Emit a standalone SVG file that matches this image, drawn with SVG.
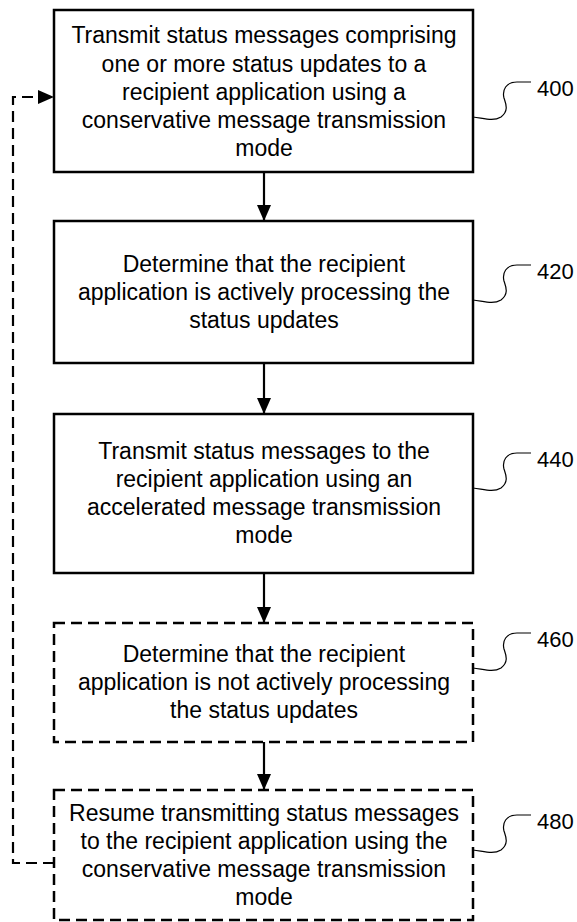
<svg xmlns="http://www.w3.org/2000/svg" width="577" height="922" viewBox="0 0 577 922">
<style>
.box{fill:#fff;stroke:#000;stroke-width:2.5}
.dash{stroke-dasharray:11 6}
.t{font-family:"Liberation Sans",Arial,sans-serif;font-size:23px;fill:#000;text-anchor:middle}
.lbl{font-family:"Liberation Sans",Arial,sans-serif;font-size:22px;fill:#000}
.lead{fill:none;stroke:#000;stroke-width:1.2}
.conn{fill:none;stroke:#000;stroke-width:2.2}
</style>
<defs>
<marker id="ah" markerWidth="16" markerHeight="14" refX="16" refY="7" orient="auto" markerUnits="userSpaceOnUse">
<path d="M0,0 L16,7 L0,14 Z" fill="#000"/>
</marker>
<path id="leader" class="lead" d="M0,0 C10,1 20,5 28,0 C36,-6 33,-13 31,-19 C29,-27 33,-35 44,-35 L58,-35"/>
</defs>
<g id="connectors">
<line class="conn" x1="264" y1="172" x2="264" y2="221" marker-end="url(#ah)"/>
<line class="conn" x1="264" y1="363" x2="264" y2="414" marker-end="url(#ah)"/>
<line class="conn" x1="264" y1="573" x2="264" y2="623" marker-end="url(#ah)"/>
<line class="conn" x1="264" y1="742" x2="264" y2="790" marker-end="url(#ah)"/>
<polyline class="conn dash" points="54,863 13,863 13,97 54,97" marker-end="url(#ah)"/>
</g>
<g id="n400">
<rect class="box" x="54" y="10" width="419" height="162"/>
<text class="t" x="264" y="43">Transmit status messages comprising</text>
<text class="t" x="264" y="72">one or more status updates to a</text>
<text class="t" x="264" y="100">recipient application using a</text>
<text class="t" x="264" y="128">conservative message transmission</text>
<text class="t" x="264" y="156">mode</text>
<use href="#leader" x="473" y="117"/>
<text class="lbl" x="537" y="96">400</text>
</g>
<g id="n420">
<rect class="box" x="54" y="221" width="419" height="142"/>
<text class="t" x="264" y="272">Determine that the recipient</text>
<text class="t" x="264" y="300">application is actively processing the</text>
<text class="t" x="264" y="328">status updates</text>
<use href="#leader" x="473" y="300"/>
<text class="lbl" x="537" y="279">420</text>
</g>
<g id="n440">
<rect class="box" x="54" y="414" width="419" height="159"/>
<text class="t" x="264" y="459">Transmit status messages to the</text>
<text class="t" x="264" y="487">recipient application using an</text>
<text class="t" x="264" y="515">accelerated message transmission</text>
<text class="t" x="264" y="543">mode</text>
<use href="#leader" x="473" y="488"/>
<text class="lbl" x="537" y="467">440</text>
</g>
<g id="n460">
<rect class="box dash" x="54" y="623" width="419" height="119"/>
<text class="t" x="264" y="662">Determine that the recipient</text>
<text class="t" x="264" y="690">application is not actively processing</text>
<text class="t" x="264" y="718">the status updates</text>
<use href="#leader" x="473" y="668"/>
<text class="lbl" x="537" y="647">460</text>
</g>
<g id="n480">
<rect class="box dash" x="54" y="790" width="419" height="130"/>
<text class="t" x="264" y="821">Resume transmitting status messages</text>
<text class="t" x="264" y="849">to the recipient application using the</text>
<text class="t" x="264" y="877">conservative message transmission</text>
<text class="t" x="264" y="905">mode</text>
<use href="#leader" x="473" y="850"/>
<text class="lbl" x="537" y="829">480</text>
</g>
</svg>
